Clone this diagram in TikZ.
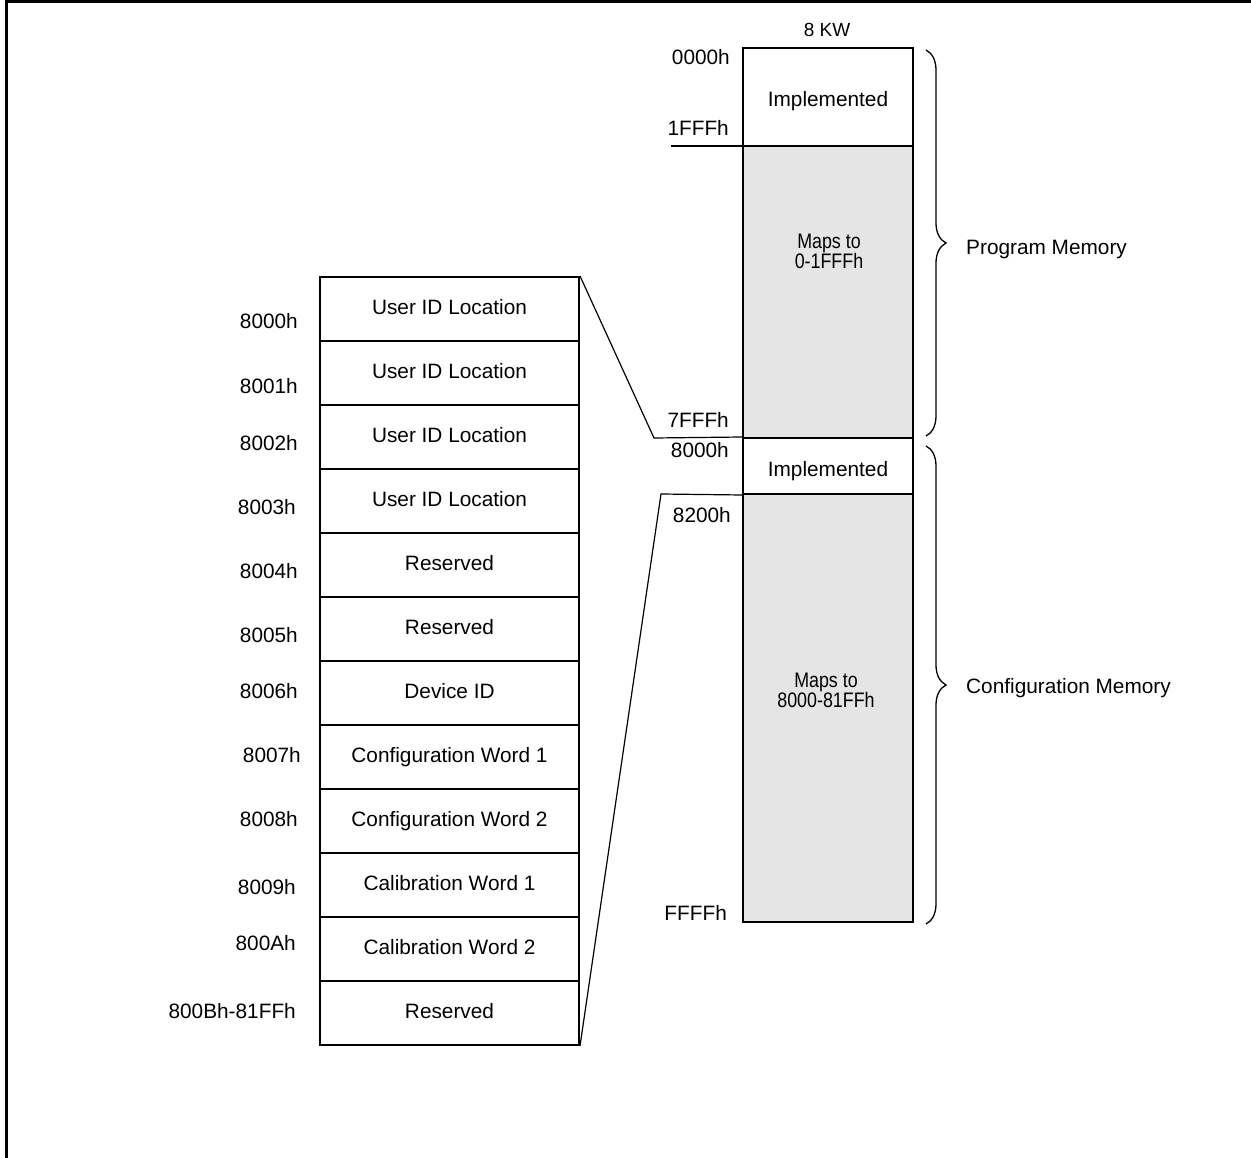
\documentclass[tikz,border=0pt]{standalone}
\usepackage{fontspec}
\setmainfont{Liberation Sans}
\usetikzlibrary{decorations.pathreplacing}
\newcommand\dmfont{\fontsize{20.8}{24}\selectfont}
\newcommand\dmsmall{\fontsize{19}{22}\selectfont}
\newcommand\dmmaps{\fontsize{21}{20}\selectfont}
\begin{document}
\begin{tikzpicture}[x=1pt,y=-1pt,
  cell/.style={draw,line width=2pt,minimum width=259pt,minimum height=64pt,inner sep=0pt,font=\dmfont,text height=15pt,text depth=4pt},
  mem/.style={draw,line width=2pt,minimum width=170pt,inner sep=0pt},
  shaded/.style={mem,fill=black!10},
  impl/.style={font=\dmfont,inner sep=0pt,anchor=base},
  lab/.style={font=\dmfont,inner sep=0pt,anchor=base east},
  side/.style={font=\dmfont,inner sep=0pt,anchor=base west},
  maps/.style={font=\dmmaps,inner sep=0pt,align=center,xscale=0.85},
  conn/.style={line width=1.2pt},
  brc/.style={line width=1.3pt,decorate,decoration={brace,amplitude=20pt}},
  frame/.style={line width=3pt}
]
\useasboundingbox (0,0) rectangle (1251,1158);
% frame
\draw[frame] (6.5,1158) -- (6.5,1.5) -- (1251,1.5);

% right memory column
\node[mem,minimum height=98pt] (impA) at (828,97) {};
\node[shaded,minimum height=292pt] (mapA) at (828,292) {};
\node[mem,minimum height=56pt] (impB) at (828,466) {};
\node[shaded,minimum height=428pt] (mapB) at (828,708) {};
\node[impl] (impAt) at (828,107) {Implemented};
\node[impl] (impBt) at (828,476) {Implemented};
\node[maps] (mapAt) at (829,251) {Maps to\\0-1FFFh};
\node[maps] (mapBt) at (826,690) {Maps to\\8000-81FFh};
\node[font=\dmsmall,inner sep=0pt,anchor=base] (kw) at (827,37) {8 KW};

\coordinate (tick1) at (671,146);
\coordinate (tick2) at (838,146);
\draw[line width=2pt] (tick1) -- (tick2);

\node[lab] (a0) at (730,65) {0000h};
\node[lab] (a1) at (729,136) {1FFFh};
\node[lab] (a2) at (729,428) {7FFFh};
\node[lab] (a3) at (729,457) {8000h};
\node[lab] (a4) at (731,522) {8200h};
\node[lab] (a5) at (727,920) {FFFFh};

% braces
\coordinate (bA1) at (926,50);
\coordinate (bA2) at (926,436);
\coordinate (bB1) at (926,446);
\coordinate (bB2) at (926,924);
\draw[brc] (bA1) -- (bA2);
\draw[brc] (bB1) -- (bB2);
\node[side] (pm) at (966,255) {Program Memory};
\node[side] (cm) at (966,693) {Configuration Memory};

% left table
\foreach \t [count=\i from 0] in {User ID Location,User ID Location,User ID Location,User ID Location,Reserved,Reserved,Device ID,Configuration Word 1,Configuration Word 2,Calibration Word 1,Calibration Word 2,Reserved}{
  \node[cell] (r\i) at (449.5,{309+64*\i}) {\t};
}
\foreach \n/\y/\x [count=\i from 0] in {8000h/329/298,8001h/394/298,8002h/450/298,8003h/514/296,8004h/578/298,8005h/642/298,8006h/698/298,8007h/762/301,8008h/826/298,8009h/894/296,800Ah/950/296,800Bh-81FFh/1018/296}{
  \node[lab] (l\i) at (\x,\y) {\n};
}

% connectors
\coordinate (k1) at (654,438);
\coordinate (k2) at (661,494);
\draw[conn] (r0.north east) -- (k1) -- (impB.north west);
\draw[conn] (r11.south east) -- (k2) -- (impB.south west);
\end{tikzpicture}
\end{document}
